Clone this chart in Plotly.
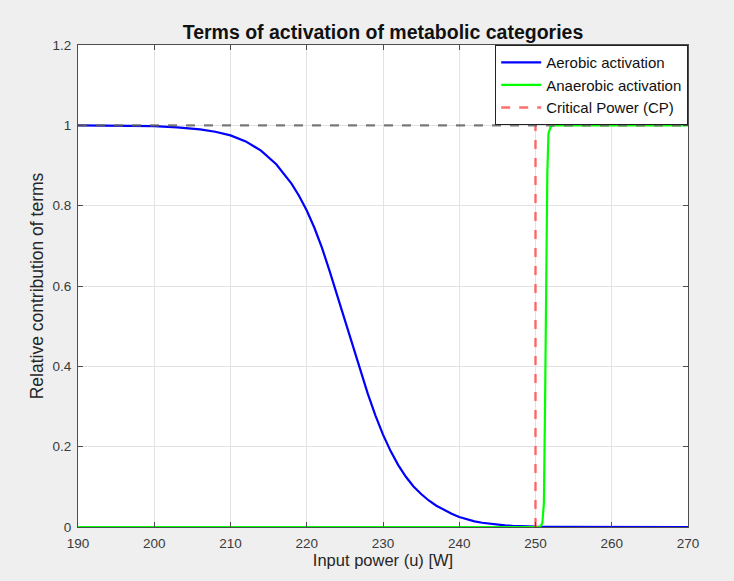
import plotly.graph_objects as go

# Aerobic activation (blue)
aer_x = [190, 195, 200, 203, 206, 208, 210, 212, 214, 216, 218, 219, 220,
         221, 222, 223, 224, 225, 226, 227, 228, 229, 230, 231, 232, 233, 234,
         235, 236, 237, 238, 239, 240, 241, 242, 243, 244, 245, 246, 247, 248,
         249, 250, 252, 255, 260, 270]
aer_y = [1.0, 0.9995, 0.998, 0.995, 0.99, 0.984, 0.975, 0.96, 0.937, 0.903, 0.855, 0.824, 0.788,
         0.745, 0.695, 0.637, 0.575, 0.512, 0.45, 0.39, 0.332, 0.278, 0.23, 0.189, 0.154, 0.125, 0.101,
         0.082, 0.066, 0.053, 0.042, 0.033, 0.025, 0.019, 0.014, 0.0105, 0.0078, 0.0058, 0.0042, 0.003, 0.0021,
         0.0014, 0.0009, 0.0004, 0.0001, 0.0, 0.0]

# Anaerobic activation (green)
ana_x = [190, 250.6, 250.9, 251.1, 251.25, 251.4, 251.55, 251.7, 252.0, 252.3, 270]
ana_y = [0.0, 0.0, 0.01, 0.06, 0.3, 0.6, 0.88, 0.98, 0.997, 1.0, 1.0]

cp_value = 250
ref_level = 1.0
x_range = [190, 270]
y_range = [0, 1.2]
x_ticks = [190, 200, 210, 220, 230, 240, 250, 260, 270]
y_ticks = [0, 0.2, 0.4, 0.6, 0.8, 1.0, 1.2]
y_tick_text = ["0", "0.2", "0.4", "0.6", "0.8", "1", "1.2"]

FONT = "Liberation Sans, Arial, Helvetica, sans-serif"

fig = go.Figure()
fig.add_trace(go.Scatter(x=aer_x, y=aer_y, mode="lines", name="Aerobic activation",
                         line=dict(color="#0000ff", width=2.2)))
fig.add_trace(go.Scatter(x=ana_x, y=ana_y, mode="lines", name="Anaerobic activation",
                         line=dict(color="#00ff00", width=2.2)))
fig.add_trace(go.Scatter(x=[cp_value, cp_value], y=y_range, mode="lines",
                         name="Critical Power (CP)",
                         line=dict(color="rgba(255,60,60,0.75)", width=2.4, dash="dash")))
fig.add_trace(go.Scatter(x=x_range, y=[ref_level, ref_level], mode="lines",
                         showlegend=False, hoverinfo="skip",
                         line=dict(color="rgba(100,100,100,0.85)", width=2.4, dash="dash")))

axis_common = dict(
    showline=True, linecolor="#4d4d4d", linewidth=1.2, mirror="allticks",
    ticks="inside", ticklen=5, tickcolor="#4d4d4d", tickwidth=1,
    showgrid=True, gridcolor="#e3e3e3", gridwidth=1, zeroline=False,
    tickfont=dict(family=FONT, size=13.5, color="#3a3a3a"),
)

fig.update_layout(
    width=734, height=581,
    paper_bgcolor="#efefef", plot_bgcolor="#ffffff",
    margin=dict(l=78, r=46, t=45, b=54),
    title=dict(text="<b>Terms of activation of metabolic categories</b>",
               x=0.5, xref="paper", xanchor="center", y=1, yref="paper",
               yanchor="bottom", pad=dict(b=6),
               font=dict(family=FONT, size=19.5, color="#111111")),
    xaxis=dict(range=x_range, tickvals=x_ticks, ticklabelstandoff=4,
               title=dict(text="Input power (u) [W]", standoff=4,
                          font=dict(family=FONT, size=16.5, color="#262626")),
               **axis_common),
    yaxis=dict(range=y_range, tickvals=y_ticks, ticktext=y_tick_text, ticklabelstandoff=3,
               title=dict(text="Relative contribution of terms", standoff=4,
                          font=dict(family=FONT, size=17.5, color="#262626")),
               **axis_common),
    legend=dict(x=1, y=1, xanchor="right", yanchor="top", bgcolor="#ffffff",
                bordercolor="#222222", borderwidth=1.2,
                font=dict(family=FONT, size=15, color="#111111"),
                tracegroupgap=0, itemwidth=40),
    showlegend=True,
)

fig.write_html("out.html")
